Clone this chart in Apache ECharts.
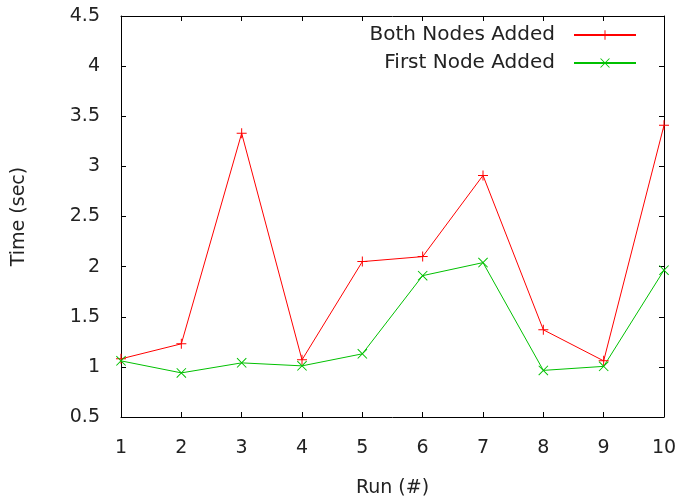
<!DOCTYPE html>
<html>
<head>
<meta charset="utf-8">
<script src="https://cdn.jsdelivr.net/npm/echarts@6/dist/echarts.min.js"></script>
<style>
  html, body { margin: 0; padding: 0; background: #fff; }
  #chart { width: 679px; height: 497px; }
</style>
</head>
<body>
<div id="chart"></div>
<script>
const runs = ['1', '2', '3', '4', '5', '6', '7', '8', '9', '10'];
const bothNodes = [1.08, 1.23, 3.33, 1.07, 2.05, 2.10, 2.91, 1.37, 1.06, 3.41];
const firstNode = [1.06, 0.94, 1.04, 1.01, 1.13, 1.91, 2.04, 0.965, 1.005, 1.965];

const FONT = 'DejaVu Sans';
const TXT = '#222';

// gnuplot style markers drawn as thin filled bars
const plusPath = 'path://M0,4.5L10,4.5L10,5.5L0,5.5Z M4.5,0L5.5,0L5.5,10L4.5,10Z';
const crossPath = 'path://M0,0.7L0.7,0L10,9.3L9.3,10Z M9.3,0L10,0.7L0.7,10L0,9.3Z';

const chart = echarts.init(document.getElementById('chart'));

const mirrorX = {
  type: 'category', data: runs, boundaryGap: false, position: 'top',
  axisLine: { show: true, lineStyle: { color: '#000', width: 1 } },
  axisTick: { show: true, inside: true, length: 5, lineStyle: { color: '#000' } },
  axisLabel: { show: false }, splitLine: { show: false }
};
const mirrorY = {
  type: 'value', min: 0.5, max: 4.5, interval: 0.5, position: 'right',
  axisLine: { show: true, lineStyle: { color: '#000', width: 1 } },
  axisTick: { show: true, inside: true, length: 5, lineStyle: { color: '#000' } },
  axisLabel: { show: false }, splitLine: { show: false }
};

chart.setOption({
  animation: false,
  grid: { left: 121, right: 15, top: 16, bottom: 80, outerBoundsMode: 'none', containLabel: false },
  legend: {
    orient: 'vertical',
    right: 37,
    top: 20,
    align: 'right',
    itemWidth: 62,
    itemHeight: 12,
    itemGap: 8,
    textStyle: { fontFamily: FONT, fontSize: 20, color: TXT, lineHeight: 20, padding: [0, 14, 0, 0] },
    data: ['Both Nodes Added', 'First Node Added']
  },
  xAxis: [
    {
      type: 'category', data: runs, boundaryGap: false,
      name: 'Run (#)', nameLocation: 'middle', nameGap: 62,
      nameTextStyle: { fontFamily: FONT, fontSize: 19, color: TXT },
      axisLine: { show: true, lineStyle: { color: '#000', width: 1 } },
      axisTick: { show: true, inside: true, length: 5, alignWithLabel: true, lineStyle: { color: '#000' } },
      axisLabel: { fontFamily: FONT, fontSize: 19, color: TXT, margin: 22 },
      splitLine: { show: false }
    },
    mirrorX
  ],
  yAxis: [
    {
      type: 'value', min: 0.5, max: 4.5, interval: 0.5,
      name: 'Time (sec)', nameLocation: 'middle', nameGap: 92,
      nameTextStyle: { fontFamily: FONT, fontSize: 19, color: TXT },
      axisLine: { show: true, lineStyle: { color: '#000', width: 1 } },
      axisTick: { show: true, inside: true, length: 5, lineStyle: { color: '#000' } },
      axisLabel: { fontFamily: FONT, fontSize: 19, color: TXT, margin: 21 },
      splitLine: { show: false }
    },
    mirrorY
  ],
  series: [
    {
      name: 'Both Nodes Added', type: 'line', data: bothNodes,
      symbol: plusPath, symbolSize: 10, showAllSymbol: true,
      lineStyle: { color: '#ff0000', width: 1 },
      itemStyle: { color: '#ff0000' }
    },
    {
      name: 'First Node Added', type: 'line', data: firstNode,
      symbol: crossPath, symbolSize: 10, showAllSymbol: true,
      lineStyle: { color: '#00c000', width: 1 },
      itemStyle: { color: '#00c000' }
    }
  ]
});
</script>
</body>
</html>
